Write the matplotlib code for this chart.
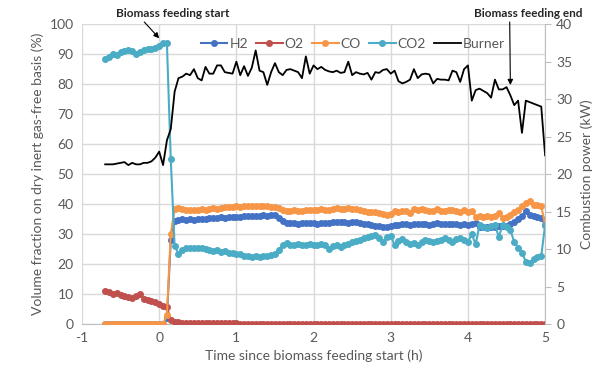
import numpy as np
import matplotlib
matplotlib.use("Agg")
import matplotlib.pyplot as plt

plt.rcParams['font.family'] = ['Lato', 'DejaVu Sans']
plt.rcParams['axes.unicode_minus'] = False

# sampling times (h since biomass feeding start)
t = np.round(np.arange(-0.70, 5.001, 0.05), 2)

h2 = [0]*16 + [2, 28, 34.2,
      34.6, 34.9, 34.8, 34.9, 34.7, 35.0, 35.1, 35.0, 35.2, 35.3, 35.3, 35.6, 35.5, 35.7, 35.6, 35.8,
      35.7, 35.9, 36.0, 36.0, 36.1, 36.0, 36.2, 36.1, 36.3, 36.2, 35.2, 34.2, 33.8, 33.6, 33.7, 33.5,
      33.6, 33.8, 33.6, 33.7, 33.5, 33.7, 33.8, 33.6, 34.0, 33.9, 34.1, 34.0, 33.8, 34.1, 33.9, 33.6,
      33.4, 33.2, 33.0, 32.8, 32.6, 32.5, 32.3, 32.6, 33.1, 32.9, 33.2, 33.4, 33.0, 33.5, 33.3, 33.2,
      33.4, 33.1, 33.3, 33.6, 33.2, 33.4, 33.3, 33.2, 33.4, 33.1, 33.3, 32.9, 33.2, 33.6, 32.4, 32.5,
      32.3, 32.5, 32.4, 32.6, 32.8, 32.6, 33.4, 34.1, 35.0, 36.0, 37.7, 36.4, 36.1, 35.8, 35.5, 33.0]

o2 = [11.1, 10.6, 10.0, 10.4, 9.6, 9.2, 9.0, 8.7, 9.3, 10.0, 8.3, 7.9, 7.7, 7.3, 6.8, 6.0, 5.6, 1.5, 0.8,
      0.6, 0.5, 0.5, 0.4, 0.4, 0.4, 0.3, 0.3, 0.3, 0.3, 0.2, 0.2, 0.2, 0.2, 0.2, 0.2,
      0.1, 0.1, 0.1, 0.1, 0.1, 0.1, 0.1, 0.1, 0.1, 0.1] + [0]*70

co = [0]*16 + [3, 30, 38.5,
      38.8, 38.3, 38.0, 38.1, 37.9, 38.0, 38.2, 38.1, 38.4, 38.6, 38.5, 38.8, 39.0, 38.9, 39.1, 39.2,
      39.0, 39.2, 39.3, 39.2, 39.4, 39.3, 39.2, 39.3, 39.1, 39.0, 38.6, 38.0, 37.7, 37.8, 37.9, 37.7,
      37.8, 37.9, 38.1, 37.9, 38.0, 38.2, 37.9, 38.1, 38.3, 38.8, 38.5, 38.4, 38.6, 38.5, 38.3, 38.0,
      37.7, 37.5, 37.4, 37.2, 36.9, 36.8, 36.5, 36.7, 37.6, 37.2, 37.6, 37.8, 37.0, 38.2, 38.0, 38.4,
      37.9, 37.6, 37.8, 38.2, 37.8, 37.6, 37.9, 38.0, 37.7, 37.5, 37.9, 37.3, 37.8, 35.8, 35.9, 35.7,
      36.0, 35.7, 35.9, 36.9, 35.2, 35.8, 36.3, 37.2, 38.0, 39.5, 40.4, 41.0, 39.8, 39.6, 39.4, 33.0]

co2 = [88.3, 89.1, 89.9, 89.6, 90.6, 91.1, 91.3, 91.1, 90.2, 90.8, 91.3, 91.6, 91.7, 92.2, 92.8, 93.8,
       93.6, 55.0, 26.0,
       23.5, 24.8, 25.3, 25.4, 25.2, 25.5, 25.3, 24.9, 24.7, 24.5, 24.6, 24.1, 24.3, 23.8, 23.6, 23.4,
       23.2, 22.8, 22.6, 22.5, 22.7, 22.4, 22.6, 22.8, 22.9, 23.3, 24.8, 26.2, 26.9, 26.5, 26.3, 26.6,
       26.2, 26.4, 26.8, 26.5, 26.3, 26.7, 26.4, 24.9, 26.0, 26.3, 25.8, 26.2, 26.8, 27.3, 27.6, 28.1,
       28.6, 29.0, 29.3, 29.7, 28.8, 27.4, 28.9, 29.4, 26.3, 27.8, 28.5, 27.2, 26.6, 27.0, 26.3, 27.2,
       28.0, 27.6, 27.4, 27.8, 28.1, 28.6, 27.9, 27.4, 28.3, 28.6, 27.9, 27.4, 29.9, 26.6, 33.0, 32.2,
       31.9, 32.6, 33.0, 29.1, 33.0, 32.4, 31.3, 27.4, 25.5, 23.8, 20.8, 20.2, 21.8, 22.5, 22.7, 33.0]

burner = [21.3, 21.3, 21.3, 21.4, 21.5, 21.6, 21.2, 21.5, 21.3, 21.3, 21.5, 21.5, 21.7, 22.2, 23.0,
          21.2, 24.5, 26.0, 31.0,
          32.8, 33.0, 33.4, 33.2, 34.0, 32.8, 32.5, 34.3, 33.4, 33.4, 34.5, 34.5, 33.6, 33.5, 33.4, 35.0,
          33.2, 34.4, 33.1, 34.2, 36.5, 33.8, 33.6, 31.9, 33.6, 34.8, 33.6, 33.2, 33.9, 34.0, 33.8, 33.6,
          32.8, 35.7, 33.4, 34.5, 34.0, 34.3, 33.9, 33.7, 33.6, 33.8, 33.5, 33.6, 35.0, 33.2, 33.6, 33.4,
          33.3, 33.5, 32.6, 33.6, 33.5, 33.9, 34.0, 33.4, 33.8, 32.4, 32.1, 32.3, 32.6, 34.0, 32.8, 33.3,
          33.4, 33.3, 32.1, 32.7, 32.6, 32.6, 32.5, 33.8, 33.6, 32.3, 34.0, 34.5, 29.8, 31.2, 31.4, 31.1,
          30.8, 30.2, 32.6, 31.3, 31.3, 31.6, 30.5, 29.2, 29.8, 25.5, 29.8, 29.6, 29.4, 29.2, 29.0, 22.5]

gases = {"H2": (h2, "#4472C4"), "O2": (o2, "#C0504D"), "CO": (co, "#F79646"), "CO2": (co2, "#4BACC6")}
grey = "#595959"

fig = plt.figure(figsize=(6.03, 3.72), dpi=100)
ax = fig.add_axes([0.136, 0.129, 0.768, 0.806])
ax2 = ax.twinx()

handles = []
for name, (vals, col) in gases.items():
    ln, = ax.plot(t, vals, color=col, lw=1.5, marker='o', ms=4, label=name, zorder=3)
    handles.append(ln)
lb, = ax2.plot(t, burner, color='black', lw=1.3, label="Burner")
handles.append(lb)

ax.set_xlim(-1, 5)
ax.set_ylim(0, 100)
ax2.set_ylim(0, 40)
ax.set_yticks(range(0, 101, 10))
ax2.set_yticks(range(0, 41, 5))
ax.set_xticks(range(-1, 6))
ax.grid(True, color="#D9D9D9", lw=1)
ax.set_axisbelow(True)

for a in (ax, ax2):
    for s in a.spines.values():
        s.set_visible(False)
    a.tick_params(colors=grey, labelsize=10)
ax.tick_params(axis='both', length=0, pad=6)
ax2.spines['right'].set_visible(True)
ax2.spines['right'].set_color("#BFBFBF")
ax.spines['bottom'].set_visible(True)
ax.spines['bottom'].set_color("#BFBFBF")
ax2.tick_params(axis='y', length=4, color="#BFBFBF", pad=4)

ax.set_xlabel("Time since biomass feeding start (h)", color=grey, fontsize=10, labelpad=4)
ax.set_ylabel("Volume fraction on dry inert gas-free basis (%)", color=grey, fontsize=10, labelpad=4)
ax2.set_ylabel("Combustion power (kW)", color=grey, fontsize=10, labelpad=6)

leg = ax2.legend(handles=handles, ncol=5, frameon=False, loc='center', bbox_to_anchor=(0.585, 0.935),
                 fontsize=10, handlelength=1.9, columnspacing=0.6, handletextpad=0.15, numpoints=1)
for txt in leg.get_texts():
    txt.set_color(grey)

ax.annotate("Biomass feeding start", xy=(0, 95.3), xytext=(0.17, 103.5), ha='center', va='center',
            fontsize=8.5, fontweight='bold', color='#262626', annotation_clip=False,
            arrowprops=dict(arrowstyle='-|>', color='black', lw=0.8, mutation_scale=8,
                            shrinkA=0, shrinkB=0, relpos=(0.23, 0)))
ax.annotate("Biomass feeding end", xy=(4.55, 79.7), xytext=(4.78, 103.5), ha='center', va='center',
            fontsize=8.5, fontweight='bold', color='#262626', annotation_clip=False,
            arrowprops=dict(arrowstyle='-|>', color='black', lw=0.8, mutation_scale=8,
                            shrinkA=0, shrinkB=0, relpos=(0.33, 0)))

fig.savefig("out.png", dpi=100)
